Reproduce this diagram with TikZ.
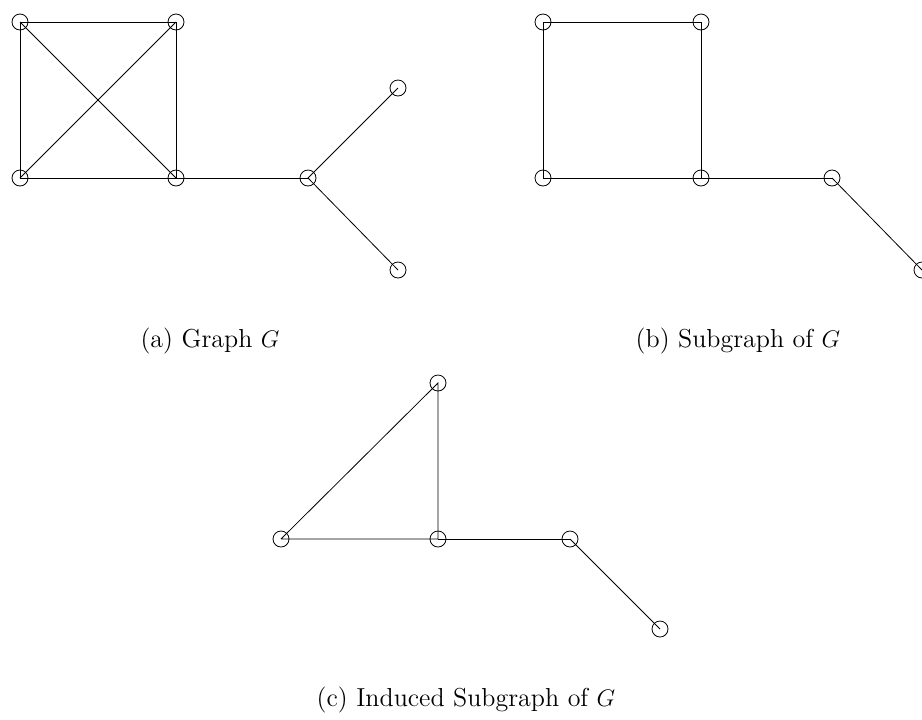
\documentclass[tikz,border=0pt]{standalone}
\begin{document}
\begin{tikzpicture}[
x=0.5pt,y=-0.5pt,
vertex/.style={circle,draw,minimum size=8pt,inner sep=0pt},
caption/.style={font=\fontsize{13}{15.5}\selectfont}
]
\useasboundingbox (0,0) rectangle (922,719);
% (a) graph G
\node[vertex](a1) at (20,22){};
\node[vertex](a2) at (176,22){};
\node[vertex](a3) at (20,178){};
\node[vertex](a4) at (176,178){};
\node[vertex](a5) at (308,178){};
\node[vertex](a6) at (398,88){};
\node[vertex](a7) at (398,270){};
\draw (a1.center) -- (a2.center) -- (a4.center) -- (a3.center) -- (a1.center);
\draw (a1.center) -- (a4.center);
\draw (a2.center) -- (a3.center);
\draw (a4.center) -- (a5.center);
\draw (a5.center) -- (a6.center);
\draw (a5.center) -- (a7.center);
\node[caption](capa) at (210,341){(a) Graph $G$};
% (b) subgraph
\node[vertex](b1) at (543,22){};
\node[vertex](b2) at (701,22){};
\node[vertex](b3) at (543,178){};
\node[vertex](b4) at (701,178){};
\node[vertex](b5) at (832,178){};
\node[vertex](b7) at (922,270){};
\draw (b1.center) -- (b2.center) -- (b4.center) -- (b3.center) -- (b1.center);
\draw (b4.center) -- (b5.center);
\draw (b5.center) -- (b7.center);
\node[caption](capb) at (738,341){(b) Subgraph of $G$};
% (c) induced subgraph
\node[vertex](c2) at (438,383){};
\node[vertex](c3) at (281,539){};
\node[vertex](c4) at (438,539){};
\node[vertex](c5) at (570,539){};
\node[vertex](c7) at (660,629){};
\draw (c3.center) -- (c2.center) -- (c4.center) -- (c3.center);
\draw (c4.center) -- (c5.center);
\draw (c5.center) -- (c7.center);
\node[caption](capc) at (466,700){(c) Induced Subgraph of $G$};
\end{tikzpicture}
\end{document}
